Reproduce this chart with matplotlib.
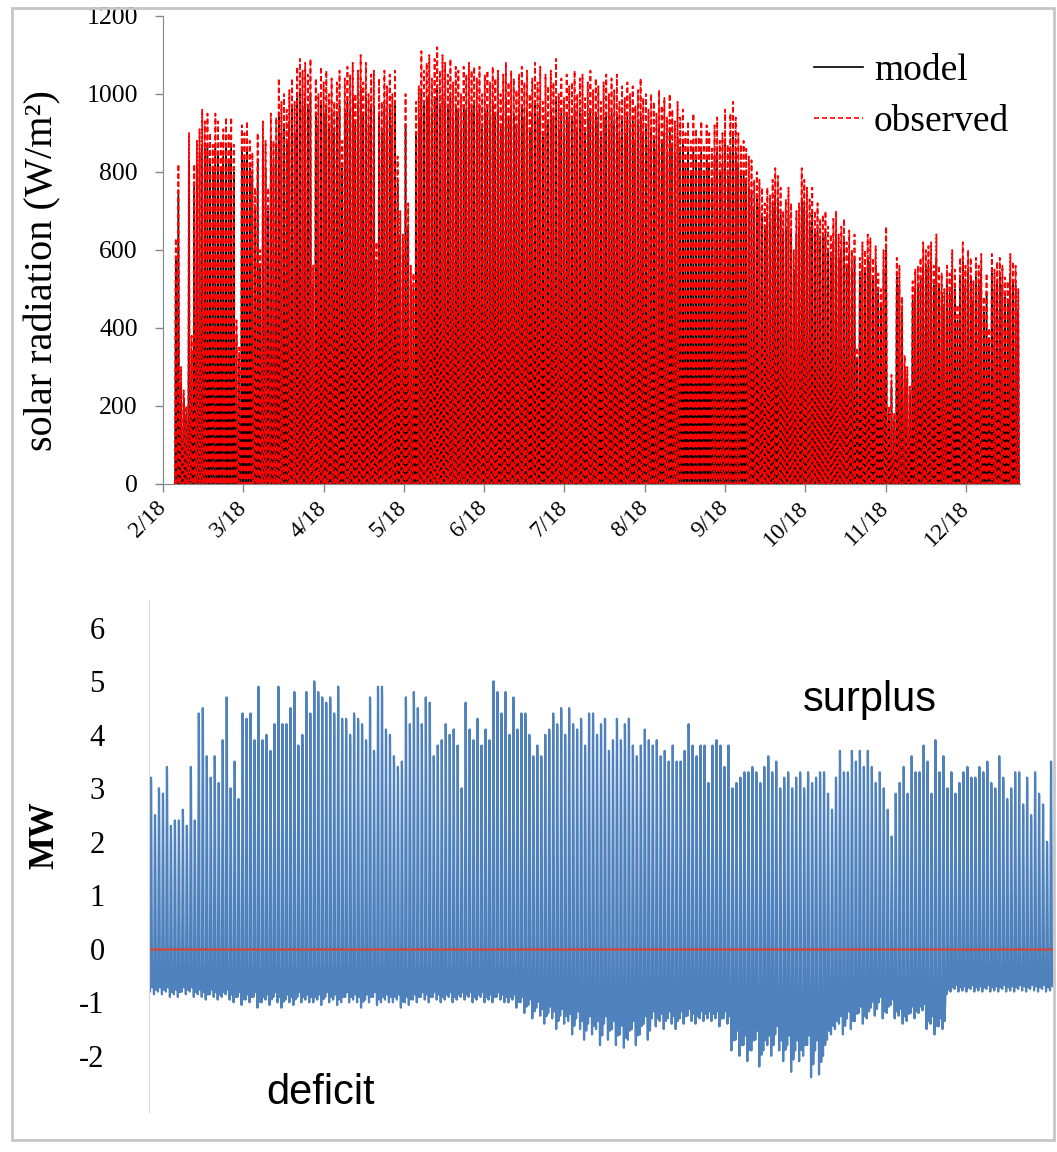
import matplotlib

matplotlib.use("Agg")
import matplotlib.pyplot as plt
import numpy as np
from matplotlib.lines import Line2D
from matplotlib.patches import Rectangle

W, H = 1057, 1152

# ---------------- top panel: solar radiation (W/m2) ----------------
MONTH_LABELS = ["2/18", "3/18", "4/18", "5/18", "6/18", "7/18",
                "8/18", "9/18", "10/18", "11/18", "12/18"]
DAYS_PER_TICK = 30.4
FIRST_DAY = 4.3

# daily peak of the observed series
OBSERVED_PEAK = [
    630, 820, 300, 240, 200, 900, 380, 820, 880, 910,
    960, 930, 950, 900, 870, 950, 930, 880, 910, 940,
    900, 940, 870, 420, 350, 920, 900, 930, 880, 850,
    760, 900, 600, 930, 880, 760, 950, 880, 940, 1040,
    980, 1000, 960, 1010, 1040, 980, 1070, 1090, 1060, 1080,
    1050, 1090, 560, 1040, 1000, 1070, 1030, 1060, 1000, 1040,
    980, 1030, 1060, 880, 1040, 1070, 1050, 1080, 1000, 1060,
    1100, 1030, 1080, 1000, 1050, 1060, 620, 1040, 980, 1060,
    1020, 1050, 1000, 1060, 840, 700, 640, 1000, 720, 560,
    540, 980, 1020, 1110, 1060, 1080, 1100, 1040, 1090, 1120,
    1060, 1100, 1080, 1050, 1090, 1030, 1070, 1060, 1000, 1070,
    1050, 1080, 1060, 1070, 1040, 1070, 1000, 1050, 1060, 1030,
    1070, 1040, 1060, 1000, 1050, 1080, 1030, 1060, 1040, 1010,
    1050, 1070, 1030, 1060, 1000, 1040, 1080, 1030, 1070, 980,
    1050, 1020, 1060, 1030, 1090, 1000, 1040, 990, 1050, 1020,
    1030, 1060, 1000, 1040, 1050, 990, 1030, 1060, 1010, 1040,
    1020, 980, 1030, 1050, 1000, 1040, 1010, 1050, 980, 1020,
    990, 1030, 1000, 1020, 970, 1010, 1040, 990, 1000, 960,
    1000, 980, 950, 1010, 970, 990, 940, 1000, 960, 930,
    980, 940, 960, 900, 930, 880, 950, 910, 890, 930,
    870, 920, 900, 860, 920, 940, 880, 900, 960, 870,
    950, 980, 940, 900, 870, 880, 860, 840, 830, 780,
    800, 780, 760, 720, 760, 740, 780, 810, 790, 760,
    700, 730, 760, 720, 600, 700, 720, 810, 780, 760,
    730, 760, 700, 720, 680, 690, 700, 660, 640, 680,
    700, 640, 660, 680, 620, 650, 600, 640, 350, 580,
    620, 600, 640, 630, 580, 610, 540, 500, 600, 660,
    200, 280, 180, 580, 560, 480, 330, 300, 250, 520,
    550, 560, 580, 620, 600, 610, 620, 560, 640, 560,
    540, 500, 560, 540, 600, 550, 460, 580, 620, 560,
    600, 580, 520, 580, 560, 590, 480, 540, 400, 590,
    550, 570, 580, 560, 530, 520, 590, 570, 560, 500,
]

# daily peak of the model series
MODEL_PEAK = [
    580, 740, 260, 220, 180, 830, 340, 760, 820, 850,
    870, 860, 870, 830, 800, 870, 850, 810, 840, 860,
    830, 860, 800, 380, 320, 850, 830, 860, 810, 790,
    700, 830, 560, 870, 810, 700, 880, 820, 870, 950,
    900, 920, 880, 930, 960, 900, 990, 1000, 970, 990,
    960, 1000, 510, 950, 920, 980, 950, 970, 920, 950,
    900, 950, 970, 810, 950, 980, 960, 990, 920, 970,
    1010, 940, 990, 920, 960, 970, 570, 950, 900, 970,
    930, 960, 920, 970, 770, 640, 590, 920, 660, 510,
    500, 900, 940, 1010, 970, 990, 1000, 950, 990, 1020,
    970, 1000, 980, 960, 990, 940, 970, 960, 910, 970,
    960, 980, 960, 970, 950, 970, 910, 950, 960, 940,
    970, 950, 960, 910, 950, 980, 940, 960, 950, 920,
    950, 970, 940, 960, 910, 950, 980, 940, 970, 890,
    950, 930, 960, 940, 990, 910, 950, 900, 950, 930,
    940, 960, 910, 950, 950, 900, 940, 960, 920, 950,
    930, 890, 940, 950, 910, 950, 920, 950, 890, 930,
    900, 940, 910, 930, 880, 920, 940, 900, 910, 870,
    910, 890, 860, 920, 880, 900, 850, 910, 870, 850,
    890, 850, 870, 820, 850, 800, 860, 830, 810, 850,
    790, 840, 820, 780, 840, 850, 800, 820, 870, 790,
    860, 890, 850, 820, 790, 800, 780, 760, 750, 710,
    730, 710, 690, 650, 690, 670, 710, 740, 720, 690,
    640, 660, 690, 650, 550, 640, 660, 730, 710, 690,
    660, 690, 640, 650, 620, 630, 640, 600, 580, 620,
    640, 580, 600, 620, 560, 590, 550, 580, 320, 530,
    560, 550, 580, 570, 530, 560, 490, 460, 550, 600,
    180, 250, 160, 530, 510, 440, 300, 270, 230, 470,
    500, 510, 530, 560, 550, 560, 570, 510, 580, 510,
    490, 460, 510, 490, 550, 500, 420, 530, 570, 510,
    550, 530, 470, 530, 510, 540, 440, 490, 360, 540,
    500, 520, 530, 510, 480, 470, 540, 520, 510, 450,
]

# fraction of the daily peak reached in each hour (0..23)
SOLAR_HOURLY_SHAPE = [0, 0, 0, 0, 0, 0, 0.03, 0.15, 0.35, 0.56, 0.74, 0.88,
                      0.97, 1.0, 0.94, 0.82, 0.64, 0.43, 0.22, 0.07, 0, 0, 0, 0]

# ---------------- bottom panel: surplus / deficit (MW) ----------------
NET_DAILY_MAX = [
    3.2, 2.5, 3.0, 2.9, 3.4, 2.3, 2.4, 2.4, 2.6, 2.3,
    3.4, 2.4, 4.4, 4.5, 3.6, 3.2, 3.6, 3.1, 3.9, 4.7,
    3.0, 3.5, 2.8, 4.4, 4.3, 4.4, 3.9, 4.9, 3.9, 4.0,
    3.7, 4.2, 4.9, 4.2, 4.2, 4.5, 4.8, 3.8, 4.0, 4.8,
    4.4, 5.0, 4.8, 4.7, 4.6, 4.7, 4.4, 4.9, 4.3, 4.3,
    4.0, 4.4, 4.3, 4.2, 3.9, 4.7, 3.7, 4.9, 4.9, 4.1,
    4.0, 3.6, 3.4, 3.5, 4.7, 4.2, 4.8, 4.5, 4.2, 4.7,
    4.6, 3.6, 3.8, 3.9, 4.2, 4.0, 4.1, 3.8, 3.0, 4.6,
    4.1, 3.9, 4.3, 3.8, 4.1, 3.9, 5.0, 4.8, 4.4, 4.8,
    4.0, 4.7, 4.1, 4.4, 4.4, 4.0, 3.6, 3.8, 3.6, 4.0,
    4.1, 4.4, 4.2, 4.5, 4.0, 4.5, 4.2, 4.1, 4.3, 3.8,
    4.4, 4.4, 4.0, 4.2, 4.3, 3.7, 3.9, 4.3, 3.9, 4.2,
    4.3, 3.8, 3.6, 3.8, 4.1, 3.9, 3.8, 3.9, 3.6, 3.7,
    3.5, 3.8, 3.5, 3.5, 3.7, 4.2, 3.8, 3.6, 3.8, 3.8,
    3.1, 3.8, 3.9, 3.8, 3.4, 3.8, 3.0, 3.1, 3.2, 3.3,
    3.3, 3.4, 3.3, 3.1, 3.4, 3.6, 3.3, 3.5, 3.0, 3.2,
    3.3, 3.0, 3.2, 3.3, 3.0, 3.3, 3.1, 3.2, 3.3, 3.3,
    2.9, 2.6, 3.2, 3.7, 3.3, 3.3, 3.7, 3.5, 3.7, 3.4,
    3.7, 3.4, 3.1, 3.3, 3.0, 2.6, 2.1, 2.9, 3.1, 3.4,
    2.9, 3.6, 3.3, 3.3, 3.8, 3.5, 2.9, 3.9, 3.3, 3.6,
    3.0, 3.3, 2.9, 3.1, 3.3, 3.4, 3.2, 3.2, 3.4, 3.3,
    3.5, 3.1, 3.0, 3.6, 3.2, 2.8, 3.0, 3.3, 3.3, 2.7,
    3.2, 2.5, 3.3, 2.9, 2.7, 2.0, 3.5,
]

NET_DAILY_MIN = [
    -0.8, -0.85, -0.8, -0.85, -0.8, -0.9, -0.85, -0.9, -0.8, -0.85,
    -0.8, -0.9, -0.85, -0.9, -0.95, -0.85, -0.9, -0.95, -0.9, -0.85,
    -0.95, -1.0, -0.9, -1.05, -0.95, -1.0, -0.9, -1.1, -1.0, -0.95,
    -1.05, -0.9, -1.0, -1.1, -0.95, -1.0, -1.05, -0.9, -1.0, -0.95,
    -1.0, -1.0, -0.95, -1.05, -0.9, -1.0, -0.95, -1.05, -1.0, -0.9,
    -1.0, -0.95, -1.0, -1.1, -0.95, -1.0, -0.9, -1.05, -1.0, -0.95,
    -1.0, -1.0, -0.95, -1.1, -1.0, -1.05, -0.95, -1.0, -0.9, -0.95,
    -1.0, -0.9, -0.95, -1.0, -0.95, -0.9, -1.0, -0.95, -0.9, -0.95,
    -0.9, -1.0, -0.95, -0.9, -1.0, -0.95, -1.0, -0.9, -0.95, -1.0,
    -1.0, -0.95, -1.1, -1.0, -1.2, -1.05, -1.3, -1.1, -1.25, -1.4,
    -1.2, -1.3, -1.5, -1.25, -1.4, -1.35, -1.6, -1.3, -1.5, -1.7,
    -1.4, -1.6, -1.5, -1.8, -1.4, -1.7, -1.5, -1.8, -1.6, -1.85,
    -1.7, -1.5, -1.8, -1.6, -1.4, -1.7, -1.3, -1.45, -1.35, -1.5,
    -1.3, -1.4, -1.5, -1.3, -1.4, -1.25, -1.35, -1.4, -1.3, -1.35,
    -1.3, -1.35, -1.3, -1.45, -1.3, -1.4, -1.9, -1.7, -2.0, -1.8,
    -2.1, -1.9, -1.7, -2.2, -1.9, -1.8, -2.0, -1.6, -1.9, -2.1,
    -1.8, -2.3, -1.9, -2.1, -2.0, -1.8, -2.4, -1.9, -2.35, -2.0,
    -1.7, -1.6, -1.5, -1.4, -1.6, -1.3, -1.5, -1.35, -1.2, -1.4,
    -1.3, -1.1, -1.25, -1.0, -1.3, -1.2, -1.05, -1.3, -1.25, -1.4,
    -1.35, -1.2, -1.3, -1.2, -1.15, -1.5, -1.4, -1.6, -1.45, -1.5,
    -0.85, -0.8, -0.75, -0.8, -0.78, -0.8, -0.75, -0.8, -0.78, -0.8,
    -0.75, -0.8, -0.78, -0.8, -0.75, -0.8, -0.78, -0.8, -0.75, -0.78,
    -0.8, -0.75, -0.78, -0.8, -0.75, -0.8, -0.78,
]

# hourly share of the day's surplus (>0) or deficit (<0)
NET_HOURLY_SHAPE = [-0.6, -0.55, -0.5, -0.5, -0.55, -0.75, -1.0, -0.55,
                    0.1, 0.4, 0.65, 0.85, 1.0, 0.95, 0.8, 0.55,
                    0.25, -0.2, -0.65, -0.9, -0.8, -0.75, -0.7, -0.6]

NET_TICKS = [-2, -1, 0, 1, 2, 3, 4, 5, 6]


def hourly_solar(peaks):
    shape = np.array(SOLAR_HOURLY_SHAPE)
    vals = np.outer(np.array(peaks, dtype=float), shape).ravel()
    x = FIRST_DAY + np.arange(len(vals)) / 24.0
    return x, vals


def hourly_net(day_max, day_min):
    shape = np.array(NET_HOURLY_SHAPE)
    mx = np.array(day_max)[:, None]
    mn = np.array(day_min)[:, None]
    vals = np.where(shape >= 0, shape * mx, -shape * mn).ravel()
    x = np.arange(len(vals)) / 24.0
    return x, vals


def fx(px):
    return px / W


def fy(py):
    return 1 - py / H


def plot_solar(fig):
    ax = fig.add_axes([fx(163), fy(484), (1020 - 163) / W, (484 - 16) / H])
    xm, ym = hourly_solar(MODEL_PEAK)
    xo, yo = hourly_solar(OBSERVED_PEAK)
    ax.plot(xm, ym, color="black", lw=1.0)
    ax.plot(xo, yo, color="red", lw=1.25, ls=(0, (3, 1.6)))

    ax.set_xlim(0, 324.5)
    ax.set_ylim(0, 1200)
    ax.set_yticks(range(0, 1201, 200))
    ax.set_xticks(np.arange(len(MONTH_LABELS)) * DAYS_PER_TICK)
    ax.set_xticklabels(MONTH_LABELS, rotation=45, ha="right", va="center",
                       rotation_mode="anchor")
    for side in ["top", "right"]:
        ax.spines[side].set_visible(False)
    for side in ["left", "bottom"]:
        ax.spines[side].set_color("#868686")
    ax.tick_params(axis="both", direction="out", length=6, width=1, color="#868686")
    ax.tick_params(axis="y", labelsize=18.5, pad=12)
    ax.tick_params(axis="x", labelsize=17, pad=9)

    fig.text(fx(43), fy(271), "solar radiation (W/m²)", rotation=90,
             ha="center", va="center", fontsize=29)

    handles = [Line2D([], [], color="black", lw=1.2),
               Line2D([], [], color="red", lw=1.2, ls=(0, (3, 1.8)))]
    ax.legend(handles, ["model", "observed"], loc="upper left",
              bbox_to_anchor=(fx(814), fy(54)), bbox_transform=fig.transFigure,
              frameon=False, fontsize=27, handlelength=1.3, handletextpad=0.3,
              labelspacing=0.42, borderpad=0, borderaxespad=0)


def plot_net(fig):
    ax = fig.add_axes([fx(149), fy(1112), 904 / W, 512 / H])
    x, y = hourly_net(NET_DAILY_MAX, NET_DAILY_MIN)
    ax.plot(x, y, color="#4f81bd", lw=1.6)
    ax.axhline(0, color="#c0504d", lw=2.0)

    ax.set_xlim(0, len(NET_DAILY_MAX))
    ax.set_ylim(-3.05, 6.52)
    ax.set_yticks(NET_TICKS)
    ax.set_xticks([])
    for side in ["top", "right", "bottom"]:
        ax.spines[side].set_visible(False)
    ax.spines["left"].set_color("#d9d9d9")
    ax.tick_params(axis="y", length=0, labelsize=22, pad=32)

    fig.text(fx(45), fy(835), "MW", rotation=90, ha="center", va="center",
             fontsize=25, fontweight="bold")
    fig.text(fx(870), fy(700), "surplus", ha="center", va="center",
             fontsize=30, family=["Liberation Sans", "DejaVu Sans"])
    fig.text(fx(321), fy(1093), "deficit", ha="center", va="center",
             fontsize=30, family=["Liberation Sans", "DejaVu Sans"])


def main() -> None:
    plt.rcParams["font.family"] = ["Liberation Serif", "DejaVu Serif"]
    plt.rcParams["axes.unicode_minus"] = False

    fig = plt.figure(figsize=(W / 100, H / 100), dpi=100)
    plot_solar(fig)
    plot_net(fig)

    # grey frame around the whole composite
    fig.patches.append(Rectangle((fx(12), fy(1140)), (1054 - 12) / W, (1140 - 8) / H,
                                 transform=fig.transFigure, fill=False,
                                 edgecolor="#c6c6c6", lw=2))
    fig.savefig("out.png", dpi=100)
    plt.close(fig)


if __name__ == "__main__":
    main()
